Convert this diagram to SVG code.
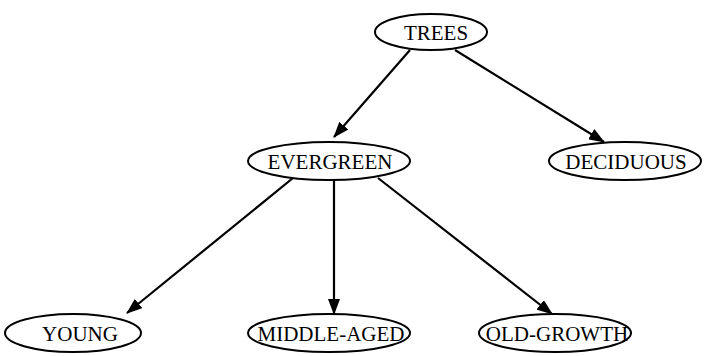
<svg xmlns="http://www.w3.org/2000/svg" width="705" height="356" viewBox="0 0 705 356">
<defs>
<marker id="ah" markerWidth="16" markerHeight="12" refX="15" refY="6" orient="auto" markerUnits="userSpaceOnUse">
<path d="M0,0 L16,6 L0,12 Z" fill="#000"/>
</marker>
<style>
ellipse{fill:#fff;stroke:#000;stroke-width:2}
text{font-family:"Liberation Serif","Times New Roman",serif;font-size:21px;text-anchor:middle;fill:#000}
.e{stroke:#000;stroke-width:2.2;fill:none;marker-end:url(#ah)}
</style>
</defs>
<rect width="705" height="356" fill="#fff"/>
<g id="edges">
<line class="e" x1="410" y1="50" x2="334" y2="137"/>
<line class="e" x1="455" y1="50" x2="604" y2="142"/>
<line class="e" x1="293" y1="178" x2="127" y2="313"/>
<line class="e" x1="334" y1="180" x2="334" y2="314"/>
<line class="e" x1="378" y1="178" x2="552" y2="314"/>
</g>
<g id="trees"><ellipse cx="431" cy="32" rx="56" ry="18"/><text x="436" y="40">TREES</text></g>
<g id="evergreen"><ellipse cx="329" cy="161" rx="81" ry="19"/><text x="330" y="169">EVERGREEN</text></g>
<g id="deciduous"><ellipse cx="625" cy="161" rx="76" ry="19"/><text x="626" y="169">DECIDUOUS</text></g>
<g id="young"><ellipse cx="73" cy="333" rx="68" ry="19"/><text x="80" y="341">YOUNG</text></g>
<g id="middle-aged"><ellipse cx="329" cy="333" rx="81" ry="19"/><text x="331" y="341">MIDDLE-AGED</text></g>
<g id="old-growth"><ellipse cx="555" cy="333" rx="76" ry="19"/><text x="557" y="341">OLD-GROWTH</text></g>
</svg>
